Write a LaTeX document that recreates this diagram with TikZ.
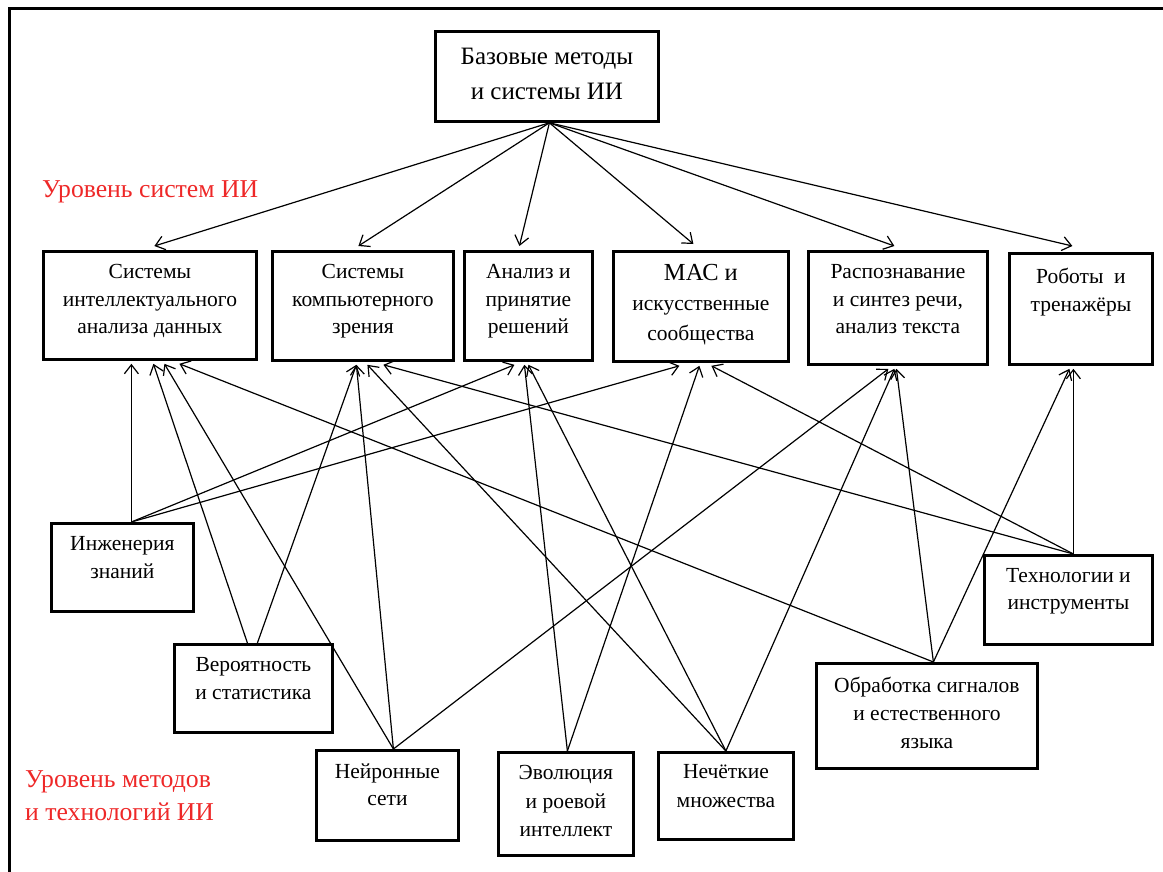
\documentclass[tikz,border=0pt]{standalone}
\usepackage{fontspec}
\setmainfont{Liberation Serif}
\usetikzlibrary{arrows.meta}
\definecolor{lvl}{RGB}{238,40,40}
\begin{document}
\begin{tikzpicture}[x=1pt,y=-1pt,
  box/.style={draw, line width=2.8pt, inner sep=0pt, anchor=north west},
  lbl/.style={anchor=north, inner sep=0pt, align=center, font=\fontsize{21.5}{27.5}\selectfont},
  conn/.style={line width=1.2pt, -{Straight Barb[length=9pt,width=14pt,line width=1.2pt]}},
  lvltext/.style={text=lvl, font=\fontsize{25.7}{33}\selectfont, inner sep=0pt, align=left}
]
\useasboundingbox (0,0) rectangle (1163,872);
\draw[line width=3pt] (9,872) -- (9,9) -- (1163,9);

% boxes
\node[box, minimum width=223pt, minimum height=90pt] (top) at (434,30) {};
\node[box, minimum width=213pt, minimum height=108pt] (b1) at (42,250) {};
\node[box, minimum width=181pt, minimum height=109pt] (b2) at (271,250) {};
\node[box, minimum width=128pt, minimum height=109pt] (b3) at (463,250) {};
\node[box, minimum width=175pt, minimum height=110pt] (b4) at (612,250) {};
\node[box, minimum width=179pt, minimum height=113pt] (b5) at (807,250) {};
\node[box, minimum width=143pt, minimum height=111pt] (b6) at (1008,252) {};
\node[box, minimum width=142pt, minimum height=88pt] (inz) at (50,522) {};
\node[box, minimum width=158pt, minimum height=88pt] (ver) at (173,643) {};
\node[box, minimum width=142pt, minimum height=90pt] (nei) at (315,749) {};
\node[box, minimum width=135pt, minimum height=103pt] (evo) at (497,751) {};
\node[box, minimum width=135pt, minimum height=87pt] (nec) at (657,751) {};
\node[box, minimum width=221pt, minimum height=105pt] (obr) at (815,662) {};
\node[box, minimum width=168pt, minimum height=89pt] (teh) at (983,554) {};

% texts
\node[lbl, font=\fontsize{25}{35}\selectfont] (topt) at ([yshift=-18pt]top.north) {Базовые методы\\и системы ИИ};
\node[lbl] (b1t) at ([yshift=-14.5pt]b1.north) {Системы\\интеллектуального\\анализа данных};
\node[lbl] (b2t) at ([yshift=-14.5pt]b2.north) {Системы\\компьютерного\\зрения};
\node[lbl] (b3t) at ([yshift=-14.5pt]b3.north) {Анализ и\\принятие\\решений};
\node[lbl, font=\fontsize{21.5}{30}\selectfont] (b4t) at ([yshift=-14.5pt]b4.north) {{\fontsize{24.5}{30}\selectfont МАС и}\\искусственные\\сообщества};
\node[lbl] (b5t) at ([yshift=-14.5pt]b5.north) {Распознавание\\и синтез речи,\\анализ текста};
\node[lbl] (b6t) at ([yshift=-16pt]b6.north) {Роботы\ \ и\\тренажёры};
\node[lbl] (inzt) at ([yshift=-14.5pt]inz.north) {Инженерия\\знаний};
\node[lbl] (vert) at ([yshift=-14.5pt]ver.north) {Вероятность\\и статистика};
\node[lbl] (neit) at ([yshift=-14.5pt]nei.north) {Нейронные\\сети};
\node[lbl, font=\fontsize{21.5}{28.5}\selectfont] (evot) at ([yshift=-14.5pt]evo.north) {Эволюция\\и роевой\\интеллект};
\node[lbl, font=\fontsize{21.5}{29}\selectfont] (nect) at ([yshift=-13.5pt]nec.north) {Нечёткие\\множества};
\node[lbl, font=\fontsize{21.5}{28}\selectfont] (obrt) at ([yshift=-14.5pt]obr.north) {Обработка сигналов\\и естественного\\языка};
\node[lbl, font=\fontsize{21.5}{26.5}\selectfont] (teht) at ([yshift=-14.5pt]teh.north) {Технологии и\\инструменты};

% level labels
\node[lvltext, anchor=base west] (lv1) at (42,197) {Уровень систем ИИ};
\node[lvltext, anchor=north west] (lv2) at (25,770) {Уровень методов\\и технологий ИИ};

% arrows from top
\draw[conn] ([xshift=2.5pt]top.south) -- ([xshift=4.5pt,yshift=4pt]b1.north);
\draw[conn] ([xshift=2.5pt]top.south) -- ([xshift=-4.5pt,yshift=4pt]b2.north);
\draw[conn] ([xshift=2.5pt]top.south) -- ([xshift=-9pt,yshift=4pt]b3.north);
\draw[conn] ([xshift=2.5pt]top.south) -- ([xshift=-7.5pt,yshift=6pt]b4.north);
\draw[conn] ([xshift=2.5pt]top.south) -- ([xshift=-3.5pt,yshift=4pt]b5.north);
\draw[conn] ([xshift=2.5pt]top.south) -- ([xshift=-8.5pt,yshift=6pt]b6.north);

% arrows from methods to systems
\draw[conn] ([xshift=9pt]inz.north) -- ([xshift=-18.5pt,yshift=-3pt]b1.south);
\draw[conn] ([xshift=9pt]inz.north) -- ([xshift=-14pt,yshift=-3pt]b3.south);
\draw[conn] ([xshift=9pt]inz.north) -- ([xshift=-21.5pt,yshift=-3pt]b4.south);
\draw[conn] ([xshift=-6pt]ver.north) -- ([xshift=3.5pt,yshift=-3pt]b1.south);
\draw[conn] ([xshift=4pt]ver.north) -- ([xshift=-6.5pt,yshift=-3pt]b2.south);
\draw[conn] ([xshift=6pt]nei.north) -- ([xshift=14.5pt,yshift=-3pt]b1.south);
\draw[conn] ([xshift=6pt]nei.north) -- ([xshift=-6.5pt,yshift=-3pt]b2.south);
\draw[conn] ([xshift=6pt]nei.north) -- ([xshift=-9.5pt,yshift=-3pt]b5.south);
\draw[conn] ([xshift=1.5pt]evo.north) -- ([xshift=-4pt,yshift=-3pt]b3.south);
\draw[conn] ([xshift=1.5pt]evo.north) -- ([xshift=-1.5pt,yshift=-3pt]b4.south);
\draw[conn] (nec.north) -- ([xshift=4.5pt,yshift=-3pt]b2.south);
\draw[conn] (nec.north) -- ([yshift=-3pt]b3.south);
\draw[conn] (nec.north) -- ([xshift=-3.5pt,yshift=-3pt]b5.south);
\draw[conn] ([xshift=6.5pt]obr.north) -- ([xshift=29.5pt,yshift=-3pt]b1.south);
\draw[conn] ([xshift=6.5pt]obr.north) -- ([xshift=-1.5pt,yshift=-3pt]b5.south);
\draw[conn] ([xshift=6.5pt]obr.north) -- ([xshift=-11.5pt,yshift=-3pt]b6.south);
\draw[conn] ([xshift=5pt]teh.north) -- ([xshift=20.5pt,yshift=-3pt]b2.south);
\draw[conn] ([xshift=5pt]teh.north) -- ([xshift=10.5pt,yshift=-3pt]b4.south);
\draw[conn] ([xshift=5pt]teh.north) -- ([xshift=-7.5pt,yshift=-3pt]b6.south);
\end{tikzpicture}
\end{document}
